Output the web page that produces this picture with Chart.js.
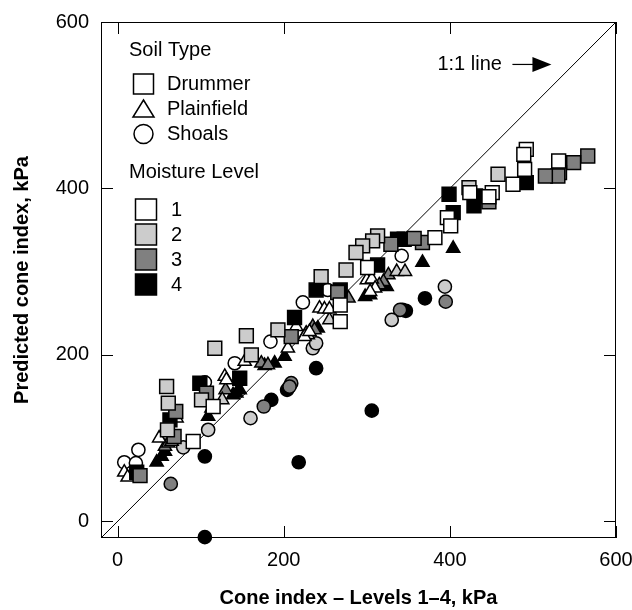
<!DOCTYPE html>
<html>
<head>
<meta charset="utf-8">
<script src="https://cdn.jsdelivr.net/npm/chart.js@4/dist/chart.umd.min.js"></script>
<style>
html, body { margin: 0; padding: 0; background: #fff; }
#wrap { width: 632px; height: 610px; }
</style>
</head>
<body>
<div id="wrap"><canvas id="chart" width="632" height="610"></canvas></div>
<script>
const soilTypes = ['Drummer', 'Plainfield', 'Shoals'];
const moistureLevels = ['1', '2', '3', '4'];
const tickValues = [0, 200, 400, 600];
const oneToOne = [-20, 600];

const drummer1 = [[531,433],[476,405],[492,447],[489,441],[490,423],[451,395],[447,390],[424,395],[397,365],[401,355],[382,341],[301,305],[268,260],[268,240],[91,96],[115,138]];
const drummer2 = [[458,417],[423,401],[313,343],[307,337],[295,331],[287,323],[275,302],[245,294],[193,230],[155,223],[117,208],[161,200],[59,162],[61,142],[101,146],[60,110]];
const drummer3 = [[566,439],[549,431],[532,419],[530,415],[515,415],[447,384],[367,335],[357,340],[329,333],[265,275],[209,222],[70,132],[68,102],[107,154],[27,55]];
const drummer4 = [[492,407],[431,391],[429,379],[399,393],[404,371],[345,339],[337,339],[313,308],[239,278],[268,278],[213,245],[99,166],[147,172],[63,122],[23,59]];

const plainfield1 = [[300,290],[306,291],[310,280],[304,276],[243,256],[249,255],[255,255],[215,234],[225,222],[231,228],[205,208],[153,192],[129,174],[131,170],[113,136],[50,100],[71,124],[65,96],[8,59],[12,53]];
const plainfield2 = [[336,300],[346,300],[255,242],[229,224],[126,146]];
const plainfield3 = [[326,296],[320,288],[315,284],[278,268],[267,258],[235,234],[237,230],[227,226],[209,222],[173,190],[181,188],[130,158],[57,90],[61,94]];
const plainfield4 = [[404,328],[367,311],[324,282],[298,270],[304,272],[241,232],[201,198],[189,190],[177,187],[139,152],[143,154],[147,158],[109,126],[47,71],[53,78],[57,84]];

const shoals1 = [[342,319],[223,263],[253,278],[184,216],[141,190],[105,167],[25,86],[8,71],[22,70]];
const shoals2 = [[394,282],[330,242],[235,208],[239,214],[109,110],[160,124],[79,89]];
const shoals3 = [[395,264],[340,254],[176,138],[209,166],[207,162],[64,45]];
const shoals4 = [[370,268],[343,254],[347,253],[306,133],[218,71],[105,-19],[105,78],[185,146],[204,158],[239,184]];

const fills = ['#ffffff', '#cccccc', '#808080', '#000000'];
const FONT = '"Liberation Sans", Arial, Helvetica, sans-serif';

function pts(arr) {
    return arr.map(function (p) { return { x: p[0], y: p[1] }; });
}

function markerSet(label, arr, level, style) {
    const radius = style === 'rect' ? 9.8 : (style === 'triangle' ? 7.6 : 6.6);
    return {
        label: label,
        data: pts(arr),
        pointStyle: style,
        pointRadius: radius,
        pointHoverRadius: radius,
        pointBackgroundColor: fills[level],
        pointBorderColor: '#000',
        pointBorderWidth: 1.5,
        showLine: false,
        clip: false,
        order: 1
    };
}

const datasets = [
    {
        label: '1:1 line',
        type: 'line',
        data: oneToOne.map(function (v) { return { x: v, y: v }; }),
        borderColor: '#000',
        borderWidth: 1,
        pointRadius: 0,
        fill: false,
        order: 10
    },
    markerSet('Drummer 1', drummer1, 0, 'rect'),
    markerSet('Drummer 2', drummer2, 1, 'rect'),
    markerSet('Drummer 3', drummer3, 2, 'rect'),
    markerSet('Drummer 4', drummer4, 3, 'rect'),
    markerSet('Plainfield 1', plainfield1, 0, 'triangle'),
    markerSet('Plainfield 2', plainfield2, 1, 'triangle'),
    markerSet('Plainfield 3', plainfield3, 2, 'triangle'),
    markerSet('Plainfield 4', plainfield4, 3, 'triangle'),
    markerSet('Shoals 1', shoals1, 0, 'circle'),
    markerSet('Shoals 2', shoals2, 1, 'circle'),
    markerSet('Shoals 3', shoals3, 2, 'circle'),
    markerSet('Shoals 4', shoals4, 3, 'circle')
];

// box, inward ticks, the hand-made legend and the 1:1 note
const frame = {
    id: 'frame',
    afterDraw: function (chart) {
        const ctx = chart.ctx;
        const a = chart.chartArea;
        const xs = chart.scales.x;
        const ys = chart.scales.y;
        ctx.save();
        ctx.strokeStyle = '#000';
        ctx.lineWidth = 1;
        ctx.strokeRect(a.left + 0.5, a.top + 0.5, a.right - a.left - 1, a.bottom - a.top - 1);
        const len = 12;
        ctx.beginPath();
        tickValues.forEach(function (v) {
            const px = Math.round(xs.getPixelForValue(v)) + 0.5;
            const py = Math.round(ys.getPixelForValue(v)) + 0.5;
            ctx.moveTo(px, a.bottom); ctx.lineTo(px, a.bottom - len);
            ctx.moveTo(px, a.top); ctx.lineTo(px, a.top + len);
            ctx.moveTo(a.left, py); ctx.lineTo(a.left + len, py);
            ctx.moveTo(a.right, py); ctx.lineTo(a.right - len, py);
        });
        ctx.stroke();

        // legend
        ctx.fillStyle = '#000';
        ctx.font = '20px ' + FONT;
        ctx.textBaseline = 'middle';
        ctx.textAlign = 'left';
        ctx.fillText('Soil Type', 129, 50);
        ctx.lineWidth = 1.5;
        const sy = [84, 109, 134];
        ctx.strokeRect(133.5, sy[0] - 10, 20, 20);
        ctx.beginPath();
        ctx.moveTo(143.5, sy[1] - 9);
        ctx.lineTo(154, sy[1] + 8);
        ctx.lineTo(133, sy[1] + 8);
        ctx.closePath();
        ctx.stroke();
        ctx.beginPath();
        ctx.arc(143.5, sy[2], 9.5, 0, Math.PI * 2);
        ctx.stroke();
        soilTypes.forEach(function (s, i) { ctx.fillText(s, 167, sy[i]); });

        ctx.fillText('Moisture Level', 129, 172);
        const my = [210, 235, 260, 285];
        moistureLevels.forEach(function (m, i) {
            ctx.fillStyle = fills[i];
            ctx.fillRect(135.5, my[i] - 11, 21, 21);
            ctx.strokeRect(135.5, my[i] - 11, 21, 21);
            ctx.fillStyle = '#000';
            ctx.fillText(m, 171, my[i]);
        });

        // 1:1 note with arrow
        const nx = xs.getPixelForValue(385);
        const ny = ys.getPixelForValue(549);
        ctx.fillText('1:1 line', nx, ny);
        ctx.lineWidth = 1.2;
        ctx.beginPath();
        ctx.moveTo(nx + 75, ny);
        ctx.lineTo(nx + 97, ny);
        ctx.stroke();
        ctx.beginPath();
        ctx.moveTo(nx + 95, ny - 7.5);
        ctx.lineTo(nx + 114, ny);
        ctx.lineTo(nx + 95, ny + 7.5);
        ctx.closePath();
        ctx.fill();
        ctx.restore();
    }
};

function axis(title, isX) {
    return {
        type: 'linear',
        min: -20,
        max: 600,
        afterBuildTicks: function (s) {
            s.ticks = tickValues.map(function (v) { return { value: v }; });
        },
        grid: { display: false, drawTicks: false },
        border: { display: false },
        ticks: {
            color: '#000',
            font: { family: FONT, size: 20 },
            padding: isX ? 10 : 12,
            maxRotation: 0
        },
        title: {
            display: true,
            text: title,
            color: '#000',
            font: { family: FONT, size: 20, weight: 'bold' },
            padding: isX ? { top: 0, bottom: 0 } : { top: 10, bottom: 0 }
        },
        afterFit: function (s) {
            if (isX) {
                s.height = 72;
                s.paddingLeft = 0;
                s.paddingRight = 0;
            } else {
                s.width = 101;
                s.paddingTop = 0;
                s.paddingBottom = 0;
            }
        }
    };
}

new Chart(document.getElementById('chart'), {
    type: 'scatter',
    data: { datasets: datasets },
    options: {
        responsive: false,
        animation: false,
        layout: { padding: { top: 22, right: 16, left: 0, bottom: 0 } },
        plugins: {
            legend: { display: false },
            tooltip: { enabled: false }
        },
        scales: {
            x: axis('Cone index \u2013 Levels 1\u20134, kPa', true),
            y: axis('Predicted cone index, kPa', false)
        }
    },
    plugins: [frame]
});
</script>
</body>
</html>
